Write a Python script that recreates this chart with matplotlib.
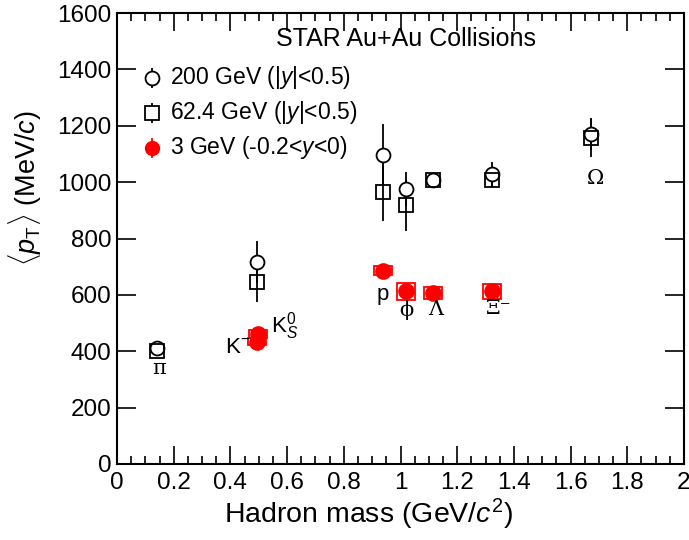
import matplotlib
matplotlib.use("Agg")
import matplotlib.pyplot as plt
from matplotlib.patches import Rectangle
from matplotlib.ticker import MultipleLocator

plt.rcParams['font.family'] = ['Liberation Sans', 'DejaVu Sans']
plt.rcParams['mathtext.fontset'] = 'custom'
plt.rcParams['mathtext.rm'] = 'Liberation Sans'
plt.rcParams['mathtext.it'] = 'Liberation Sans:italic'

# hadron masses (GeV/c^2): pi, K, p, phi, Lambda, Xi, Omega
mass_200 = [0.1396, 0.4937, 0.938, 1.019, 1.1157, 1.3217, 1.6725]
mpt_200 = [413, 716, 1097, 975, 1008, 1028, 1170]
err_200 = [15, 75, 110, 60, 12, 45, 55]

mass_62 = [0.1396, 0.4937, 0.938, 1.019, 1.1157, 1.3217, 1.6725]
mpt_62 = [400, 646, 966, 918, 1008, 1007, 1158]
err_62 = [12, 70, 105, 90, 12, 25, 70]

# 3 GeV: K-, K0S, p, phi, Lambda, Xi-
mass_3 = [0.4937, 0.4976, 0.938, 1.019, 1.1157, 1.3217]
mpt_3 = [434, 462, 686, 613, 607, 612]
sys_3 = [12, 14, 16, 30, 21, 25]

# particle labels
labels = ['π', 'K$^{-}$', 'K$^{0}_{S}$', 'p', 'ϕ', 'Λ', 'Ξ⁻', 'Ω']
label_serif = [True, False, False, False, True, True, True, True]
label_x = [0.148, 0.425, 0.59, 0.938, 1.022, 1.123, 1.345, 1.687]
label_y = [340, 413, 490, 603, 545, 547, 550, 1014]

fig = plt.figure(figsize=(6.89, 5.40), dpi=100)
ax = fig.add_axes([117/689, 76/540, 567/689, 451/540])

ax.errorbar(mass_200, mpt_200, yerr=err_200, fmt='o', mfc='white', mec='black',
            ecolor='black', ms=10, mew=1.3, elinewidth=1.3, capsize=0, zorder=3)
ax.errorbar(mass_62, mpt_62, yerr=err_62, fmt='s', mfc='none', mec='black',
            ecolor='black', ms=10, mew=1.3, elinewidth=1.3, capsize=0, zorder=3)

for m, v, s in zip(mass_3, mpt_3, sys_3):
    ax.add_patch(Rectangle((m - 0.032, v - s), 0.064, 2 * s, fill=False,
                           edgecolor='red', lw=1.3, zorder=4))
ax.plot(mass_3, mpt_3, 'o', color='red', ms=11, zorder=5)

for t, serif, x, y in zip(labels, label_serif, label_x, label_y):
    if serif:
        ax.text(x, y, t, ha='center', va='center', fontsize=15,
                family=['DejaVu Serif', 'Liberation Sans'], zorder=6)
    else:
        ax.text(x, y, t, ha='center', va='center', fontsize=16, zorder=6)

ax.set_xlim(0, 2)
ax.set_ylim(0, 1600)
ax.xaxis.set_minor_locator(MultipleLocator(0.05))
ax.yaxis.set_major_locator(MultipleLocator(200))
ax.set_xticks([0, 0.2, 0.4, 0.6, 0.8, 1, 1.2, 1.4, 1.6, 1.8, 2])
ax.set_xticklabels(['0', '0.2', '0.4', '0.6', '0.8', '1', '1.2', '1.4', '1.6', '1.8', '2'])
ax.tick_params(axis='both', which='both', direction='in', top=True, right=True, labelsize=17.5)
ax.tick_params(axis='x', which='major', length=13, width=1.2, pad=6)
ax.tick_params(axis='x', which='minor', length=6, width=1.2)
ax.tick_params(axis='y', which='major', length=14, width=1.2, pad=4)
for sp in ax.spines.values():
    sp.set_linewidth(1.5)

ax.set_xlabel('Hadron mass (GeV/$\\it{c}^{2}$)', fontsize=20.5)
ax.xaxis.set_label_coords(0.444, -0.072)
ax.set_ylabel('$\\langle p_{\\rm T}\\rangle$ (MeV/$\\it{c}$)', fontsize=19.5)
ax.yaxis.set_label_coords(-0.128, 0.612)

ax.text(0.51, 0.943, 'STAR Au+Au Collisions', transform=ax.transAxes, ha='center',
        va='center', fontsize=18)

leg_x = [0.062, 0.062, 0.062]
leg_y = [0.856, 0.779, 0.701]
ax.errorbar([leg_x[0]], [leg_y[0]], yerr=[[0.022]], transform=ax.transAxes, fmt='o',
            mfc='white', mec='black', ecolor='black', ms=10, mew=1.3, elinewidth=1.3, clip_on=False)
ax.errorbar([leg_x[1]], [leg_y[1]], yerr=[[0.022]], transform=ax.transAxes, fmt='s',
            mfc='white', mec='black', ecolor='black', ms=10, mew=1.3, elinewidth=1.3, clip_on=False)
ax.errorbar([leg_x[2]], [leg_y[2]], yerr=[[0.022]], transform=ax.transAxes, fmt='o',
            color='red', ms=10, elinewidth=1.3, clip_on=False)
leg_text = ['200 GeV (|$\\it{y}$|<0.5)', '62.4 GeV (|$\\it{y}$|<0.5)', '3 GeV (-0.2<$\\it{y}$<0)']
for t, y in zip(leg_text, leg_y):
    ax.text(0.093, y, t, transform=ax.transAxes, ha='left', va='center', fontsize=16.5)

fig.savefig('out.png', dpi=100)
